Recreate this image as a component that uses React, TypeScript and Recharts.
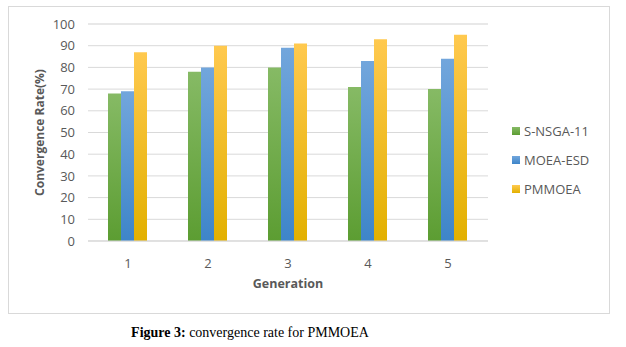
import React from 'react';
import { BarChart, Bar, XAxis, YAxis, CartesianGrid } from 'recharts';

const generations = ['1', '2', '3', '4', '5'];
const sNsga = [68, 78, 80, 71, 70];
const moeaEsd = [69, 80, 89, 83, 84];
const pmmoea = [87, 90, 91, 93, 95];
const yTicks = [0, 10, 20, 30, 40, 50, 60, 70, 80, 90, 100];
const minorTicks = [0, 2, 4, 6, 8, 10, 12, 14, 16, 18, 20, 22, 24, 26, 28, 30, 32, 34, 36, 38, 40, 42, 44, 46, 48, 50, 52, 54, 56, 58, 60, 62, 64, 66, 68, 70, 72, 74, 76, 78, 80, 82, 84, 86, 88, 90, 92, 94, 96, 98, 100];

const series = [
  { key: 'sNsga', name: 'S-NSGA-11', top: '#86ba65', bottom: '#5c9d32' },
  { key: 'moeaEsd', name: 'MOEA-ESD', top: '#72a6dc', bottom: '#3e85c9' },
  { key: 'pmmoea', name: 'PMMOEA', top: '#ffc94f', bottom: '#e2b000' },
];

const data = generations.map((g, i) => ({
  name: g,
  sNsga: sNsga[i],
  moeaEsd: moeaEsd[i],
  pmmoea: pmmoea[i],
}));

const font = '"Open Sans", sans-serif';
const grey = '#595959';

function LegendBox() {
  return (
    <div style={{ fontFamily: font, fontSize: 13, color: grey }}>
      {series.map(s => (
        <div key={s.key} style={{ display: 'flex', alignItems: 'center', height: 29 }}>
          <span style={{ width: 8, height: 8, marginRight: 4, background: `linear-gradient(${s.top}, ${s.bottom})` }} />
          <span>{s.name}</span>
        </div>
      ))}
    </div>
  );
}

export default function App() {
  return (
    <div style={{ position: 'absolute', left: 0, top: 0, width: 626, height: 347, background: '#fff' }}>
      <div style={{ position: 'absolute', left: 8, top: 6, width: 600, height: 306, border: '1px solid #d9d9d9' }} />
      <div style={{ position: 'absolute', left: 0, top: 0 }}>
        <BarChart width={626} height={300} data={data} margin={{ top: 24, right: 138, left: 28, bottom: 29 }}
          barCategoryGap="25%" barGap={0}>
          <defs>
            {series.map(s => (
              <linearGradient key={s.key} id={`g-${s.key}`} x1="0" y1="0" x2="0" y2="1">
                <stop offset="0%" stopColor={s.top} />
                <stop offset="100%" stopColor={s.bottom} />
              </linearGradient>
            ))}
          </defs>
          <CartesianGrid vertical={false} stroke="#f0f0f0" yAxisId="minor" />
          <CartesianGrid vertical={false} stroke="#d9d9d9" />
          <XAxis dataKey="name" tickLine={false} axisLine={{ stroke: '#d9d9d9' }} height={30}
            tick={{ fill: grey, fontSize: 13, fontFamily: font }} tickMargin={12}
            label={{
              content: ({ viewBox }: any) => (
                <text x={viewBox.x + viewBox.width / 2} y={viewBox.y + 47} textAnchor="middle"
                  fill={grey} fontFamily={font} fontSize={12.5} fontWeight="bold">Generation</text>
              ),
            }} />
          <YAxis yAxisId="minor" domain={[0, 100]} ticks={minorTicks} interval={0} hide />
          <YAxis domain={[0, 100]} ticks={yTicks} interval={0} width={60} axisLine={false} tickLine={false} tickSize={0}
            tickMargin={13} tick={{ fill: grey, fontSize: 13, fontFamily: font }}
            label={{
              content: ({ viewBox }: any) => {
                const x = 44;
                const y = viewBox.y + viewBox.height / 2;
                return (
                  <text x={x} y={y} transform={`rotate(-90 ${x} ${y})`} textAnchor="middle"
                    fill={grey} fontFamily={font} fontSize={12} fontWeight="bold">Convergence Rate(%)</text>
                );
              },
            }} />
          {series.map(s => (
            <Bar key={s.key} dataKey={s.key} name={s.name} fill={`url(#g-${s.key})`} isAnimationActive={false} />
          ))}
        </BarChart>
      </div>
      <div style={{ position: 'absolute', left: 512, top: 116 }}>
        <LegendBox />
      </div>
      <div style={{ position: 'absolute', left: 0, width: 500, top: 325, textAlign: 'center',
        fontFamily: '"Liberation Serif", serif', fontSize: 14, color: '#000' }}>
        <b>Figure 3:</b> convergence rate for PMMOEA
      </div>
    </div>
  );
}
